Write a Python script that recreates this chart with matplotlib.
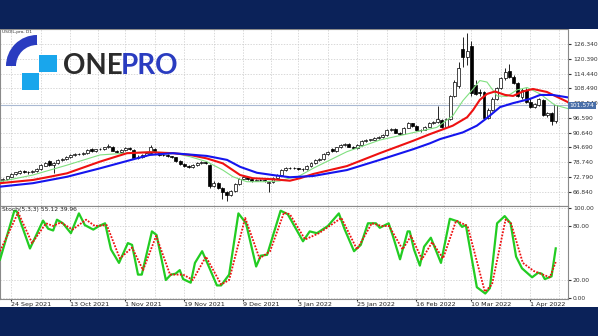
import matplotlib.pyplot as plt
import matplotlib.patches as mpatches
import matplotlib.transforms as mtransforms
import numpy as np

# daily candles USOIL (bar index 0..131)
opens = [71.4, 71.9, 72.9, 73.9, 74.5, 75.3, 74.6, 74.8, 75.2, 76.0,
         77.3, 79.1, 77.4, 78.3, 79.4, 80.0, 80.6, 81.5, 81.8, 82.0,
         82.3, 83.9, 83.0, 83.8, 84.0, 84.6, 84.9, 83.3, 82.8, 83.5,
         84.3, 83.6, 80.5, 80.8, 81.5, 82.3, 84.0, 82.6, 81.6, 81.4,
         81.0, 80.6, 79.2, 78.0, 77.3, 76.6, 77.6, 78.4, 78.7, 77.5,
         69.0, 70.3, 68.2, 66.8, 65.6, 67.0, 69.8, 72.0, 72.5, 71.9,
         71.2, 71.5, 71.4, 70.4, 70.7, 72.3, 73.6, 75.5, 76.3, 76.4,
         76.3, 76.0, 75.8, 77.0, 78.3, 79.5, 79.8, 82.0, 84.0, 83.2,
         84.6, 85.5, 86.0, 85.0, 84.2, 85.6, 87.3, 87.6, 87.8, 88.3,
         88.8, 89.5, 91.6, 92.0, 90.6, 90.2, 92.6, 94.3, 93.2, 91.5,
         91.8, 93.0, 94.4, 94.8, 95.8, 92.9, 96.0, 105.2, 109.5, 124.2,
         121.3, 125.5, 110.0, 106.8, 106.8, 96.5, 99.8, 104.3, 108.5, 112.5,
         115.5, 113.2, 110.6, 105.0, 107.8, 103.0, 101.0, 101.8, 103.6, 97.6,
         98.5, 95.3]
highs = [72.3, 73.2, 74.2, 74.9, 75.4, 75.6, 75.2, 75.6, 76.4, 77.8,
         78.9, 79.6, 78.6, 79.8, 80.4, 81.0, 81.9, 82.2, 82.5, 82.7,
         83.9, 84.2, 84.1, 84.5, 85.0, 85.9, 85.2, 83.6, 83.8, 84.6,
         84.8, 83.9, 81.4, 81.9, 82.6, 85.6, 84.3, 82.9, 82.0, 81.8,
         81.3, 80.9, 79.5, 78.3, 77.6, 77.9, 78.8, 79.1, 79.0, 78.0,
         71.2, 70.6, 68.5, 67.2, 67.5, 70.2, 72.4, 73.0, 72.8, 72.2,
         71.9, 71.8, 71.7, 71.2, 72.7, 74.0, 75.9, 76.7, 76.8, 76.7,
         76.5, 76.2, 77.4, 78.7, 79.9, 80.2, 82.4, 83.0, 84.3, 85.0,
         85.9, 86.5, 86.3, 85.3, 86.0, 87.7, 88.0, 88.2, 88.7, 89.2,
         89.9, 92.0, 92.5, 92.3, 91.0, 93.0, 94.8, 94.6, 93.5, 92.2,
         93.4, 94.8, 95.2, 101.5, 96.1, 96.4, 105.8, 111.8, 119.0, 129.2,
         130.8, 127.5, 112.0, 108.0, 107.5, 100.5, 104.8, 109.0, 113.0, 116.8,
         118.2, 114.0, 111.2, 108.8, 108.6, 104.5, 102.6, 104.5, 104.0, 98.9,
         98.9, 101.9]
lows = [71.0, 71.6, 72.6, 73.5, 74.1, 74.2, 74.0, 74.4, 74.9, 75.7,
        77.0, 77.0, 74.4, 78.0, 79.1, 79.7, 80.3, 81.1, 81.4, 81.6,
        82.0, 82.7, 82.7, 83.4, 83.7, 84.3, 83.0, 82.4, 82.5, 83.2,
        83.7, 80.2, 79.8, 80.4, 81.1, 82.0, 82.3, 81.2, 81.0, 80.6,
        80.2, 78.8, 77.7, 76.9, 76.2, 76.3, 77.3, 78.0, 77.9, 68.4,
        68.6, 67.8, 63.8, 63.0, 65.2, 66.7, 69.5, 71.6, 71.5, 70.8,
        70.9, 71.0, 70.6, 66.8, 70.4, 72.0, 73.3, 75.2, 76.0, 75.9,
        75.6, 75.3, 75.5, 76.7, 78.0, 79.2, 79.5, 81.7, 82.9, 82.9,
        84.3, 85.2, 84.7, 83.8, 83.9, 85.3, 87.0, 87.2, 87.5, 88.0,
        88.5, 89.2, 91.2, 90.3, 89.8, 89.9, 92.3, 92.9, 91.2, 90.8,
        91.5, 92.7, 94.0, 94.4, 92.4, 92.6, 95.7, 104.8, 108.8, 117.0,
        118.0, 105.5, 105.8, 105.5, 95.5, 96.0, 99.2, 103.8, 108.0, 112.0,
        112.8, 110.2, 105.0, 104.2, 102.5, 100.5, 100.6, 101.3, 97.2, 96.8,
        93.5, 94.5]
closes = [71.9, 72.9, 73.9, 74.5, 74.9, 74.6, 74.8, 75.2, 76.0, 77.3,
          78.4, 77.4, 78.3, 79.4, 80.0, 80.6, 81.5, 81.8, 82.0, 82.3,
          83.6, 83.0, 83.8, 84.0, 84.6, 85.0, 83.3, 82.8, 83.5, 84.3,
          84.0, 80.5, 80.8, 81.5, 82.3, 84.7, 82.6, 81.6, 81.4, 81.0,
          80.6, 79.2, 78.0, 77.3, 76.6, 77.6, 78.4, 78.7, 78.3, 69.0,
          70.3, 68.2, 66.8, 65.6, 67.0, 69.8, 72.0, 72.5, 71.9, 71.2,
          71.5, 71.4, 71.0, 70.7, 72.3, 73.6, 75.5, 76.3, 76.4, 76.3,
          76.0, 75.8, 77.0, 78.3, 79.5, 79.8, 82.0, 82.6, 83.2, 84.6,
          85.5, 86.0, 85.0, 84.2, 85.6, 87.3, 87.6, 87.8, 88.3, 88.8,
          89.5, 91.6, 92.0, 90.6, 90.2, 92.6, 94.3, 93.2, 91.5, 91.8,
          93.0, 94.4, 94.8, 96.0, 92.9, 96.0, 105.2, 111.0, 116.5, 121.0,
          123.5, 106.5, 106.0, 106.4, 96.5, 99.8, 104.3, 108.5, 112.5, 115.2,
          113.2, 110.6, 105.5, 107.6, 103.0, 101.0, 102.0, 104.0, 97.6, 98.5,
          95.3, 101.5]

# alligator lines (shifted forward, so they run past the last bar)
lips_x = [-0.7, 7.1, 15.2, 23.0, 30.8, 34.8, 40.3, 44.3, 48.3, 52.1, 54.5, 57.8,
          61.6, 65.6, 68.0, 69.7, 73.5, 81.5, 89.3, 98.8, 102.8, 106.6, 109.0,
          111.4, 113.0, 114.7, 117.1, 119.4, 121.8, 124.2, 127.3, 130.8, 133.9]
lips = [70.8, 73.5, 77.5, 81.6, 82.5, 82.8, 82.4, 80.9, 78.9, 75.5, 72.8, 70.8,
        70.8, 71.1, 72.3, 72.6, 76.2, 82.9, 87.6, 91.2, 92.7, 97.4, 103.5,
        108.2, 111.6, 111.0, 105.4, 105.2, 107.8, 108.8, 106.2, 101.7, 100.3]
teeth_x = [-0.7, 7.1, 11.1, 15.2, 23.0, 29.4, 34.8, 40.3, 44.3, 48.3, 52.1, 56.2,
           59.2, 63.9, 68.0, 70.4, 73.5, 81.5, 89.3, 97.2, 101.2, 106.6, 110.0,
           111.4, 113.0, 114.7, 116.6, 119.0, 120.9, 123.2, 125.6, 128.9, 133.9]
teeth = [70.2, 71.5, 72.8, 74.2, 78.9, 82.3, 82.7, 82.3, 81.6, 80.2, 78.2, 73.5,
         72.2, 71.8, 71.2, 72.2, 73.9, 77.1, 82.3, 87.3, 90.0, 93.4, 96.8,
         99.7, 103.8, 106.2, 107.2, 105.8, 105.4, 107.2, 108.2, 107.0, 102.9]
jaw_x = [-0.7, 7.1, 15.2, 23.0, 30.8, 34.8, 40.3, 48.3, 53.1, 56.2, 60.2, 63.9,
         68.0, 73.5, 81.5, 89.3, 97.2, 101.2, 103.6, 109.0, 112.3, 114.7, 117.8,
         120.9, 124.9, 127.3, 130.3, 133.9]
jaw = [68.8, 70.2, 72.8, 76.2, 79.8, 81.6, 82.3, 81.2, 79.6, 76.8, 74.4, 73.5,
       72.6, 73.1, 75.5, 79.6, 83.9, 86.3, 88.0, 90.7, 93.4, 96.5, 100.9,
       102.5, 104.2, 105.8, 105.8, 104.8]

# stochastic (5,3,3)
k_x = [-0.7, 2.7, 3.3, 6.4, 9.5, 10.7, 11.9, 12.8, 14.2, 16.1, 18.0, 19.4, 21.4,
       22.8, 24.2, 25.6, 27.5, 29.6, 30.6, 32.0, 32.9, 35.3, 36.4, 38.6, 39.8,
       40.9, 41.9, 42.7, 44.5, 45.5, 47.2, 48.6, 50.7, 51.7, 53.6, 55.8, 57.6,
       60.0, 61.1, 62.6, 65.8, 67.5, 71.1, 72.7, 74.4, 77.0, 79.6, 81.0, 83.2,
       84.8, 86.5, 88.4, 89.3, 91.4, 92.4, 94.1, 95.9, 96.4, 97.4, 98.8, 99.8,
       101.4, 103.8, 105.9, 107.8, 108.8, 109.7, 112.3, 114.3, 115.4, 117.1,
       118.9, 120.3, 121.6, 123.0, 125.4, 126.8, 127.7, 128.4, 130.0, 131.0]
stoch_k = [42.6, 97, 96, 55, 86, 77, 75, 87, 83, 72, 94, 81, 76,
           80, 83, 54, 39, 61, 59, 26, 26, 74, 70, 20, 26,
           27, 31, 21, 17, 39, 52, 37, 14, 14, 26, 94, 83,
           35, 47, 48, 97, 93, 63, 74, 72, 80, 94, 76, 52,
           59, 83, 83, 78, 83, 69, 43, 74, 74, 54, 36, 57,
           67, 39, 88, 85, 79, 81, 12, 5, 11, 83,
           91, 83, 46, 33, 23, 28, 27, 21, 24, 55.12]
d_x = [-0.7, 3.6, 6.9, 10.2, 11.9, 13.7, 16.5, 19.7, 21.8, 24.6, 27.7, 30.6,
       33.2, 36.3, 39.6, 42.7, 45.0, 48.1, 51.7, 53.6, 57.4, 60.8, 63.3, 66.6,
       68.0, 71.6, 74.9, 80.2, 83.9, 87.4, 89.8, 91.5, 94.7, 96.7, 99.3, 101.7,
       104.3, 107.4, 110.1, 114.2, 115.9, 119.1, 120.4, 123.2, 125.8, 129.6, 131.0]
stoch_d = [52, 95, 61, 83, 80, 84, 76, 87, 80, 81, 44, 56,
           31, 69, 26, 26, 20, 46, 15, 20, 89, 44, 52, 95,
           93, 65, 72, 89, 54, 83, 80, 80, 54, 69, 43, 62,
           44, 86, 80, 7, 15, 87, 83, 39, 30, 23, 39.96]

date_ticks = [2, 16, 29, 43, 57, 70, 84, 98, 111, 125]
date_labels = ["24 Sep 2021", "13 Oct 2021", "1 Nov 2021", "19 Nov 2021", "9 Dec 2021",
               "3 Jan 2022", "25 Jan 2022", "16 Feb 2022", "10 Mar 2022", "1 Apr 2022"]
price_ticks = [126.340, 120.390, 114.440, 108.490, 102.540, 96.590, 90.640,
               84.690, 78.740, 72.790, 66.840]
stoch_ticks = [100, 80, 20, 0]
last_price = 101.574

navy = "#0b2259"
grid_kw = dict(color="#c9c9c9", linestyle=(0, (2, 2)), linewidth=0.5)

fig = plt.figure(figsize=(5.98, 3.36), dpi=100)
fig.patch.set_facecolor("white")

ax = fig.add_axes([0.0, 0.3869, 0.9498, 0.5268])
ax2 = fig.add_axes([0.0, 0.1101, 0.9498, 0.2768])

minor_x = (np.array(date_ticks[:-1]) + np.array(date_ticks[1:])) / 2
minor_x = np.append(minor_x, date_ticks[-1] + 6.8)

for a in (ax, ax2):
    a.set_xlim(-0.7, 133.9)
    a.set_xticks(date_ticks)
    a.set_xticks(minor_x, minor=True)
    a.grid(True, which="both", **grid_kw)
    a.set_axisbelow(True)
    for s in a.spines.values():
        s.set_color("#8a8a8a")
        s.set_linewidth(0.8)
    a.yaxis.tick_right()
    a.tick_params(axis="y", length=2, pad=1.5, labelsize=4.3, colors="#333333")
    a.tick_params(axis="x", which="both", length=0)

# candles
idx = np.arange(len(closes))
o = np.array(opens); c = np.array(closes)
ax.vlines(idx, lows, highs, color="black", linewidth=0.6, zorder=2)
up = c >= o
ax.bar(idx[up], (c - o)[up] + 0.05, bottom=o[up], width=0.7, facecolor="white",
       edgecolor="black", linewidth=0.5, zorder=3)
ax.bar(idx[~up], (o - c)[~up], bottom=c[~up], width=0.7, facecolor="black",
       edgecolor="black", linewidth=0.5, zorder=3)

ax.plot(lips_x, lips, color="#80e080", linewidth=0.8, zorder=4)
ax.plot(teeth_x, teeth, color="#ee1111", linewidth=1.5, zorder=4)
ax.plot(jaw_x, jaw, color="#1515ee", linewidth=1.5, zorder=4)
ax.axhline(last_price, color="#a9b9d3", linewidth=0.8, zorder=1)

ax.set_ylim(61.0, 132.4)
ax.set_yticks(price_ticks, [f"{v:.3f}" for v in price_ticks])
ax.tick_params(axis="x", labelbottom=False)
trans = mtransforms.blended_transform_factory(ax.transAxes, ax.transData)
ax.text(1.003, last_price, f"{last_price:.3f}", transform=trans, fontsize=4.3,
        color="white", va="center", ha="left", clip_on=False, zorder=6,
        bbox=dict(facecolor="#4a6fa8", edgecolor="none", pad=0.9))
ax.text(0.004, 0.993, "USOIL,pro, D1", transform=ax.transAxes, fontsize=3.2,
        va="top", ha="left", color="#333333")

# stochastic panel
ax2.plot(k_x, stoch_k, color="#22cc22", linewidth=1.6, zorder=3)
ax2.plot(d_x, stoch_d, color="#ee1111", linewidth=1.3, linestyle=(0, (1, 0.8)), zorder=4)
ax2.set_ylim(-1.1, 102.2)
ax2.set_yticks(stoch_ticks, [f"{v:.2f}" for v in stoch_ticks])
ax2.set_xticks(date_ticks, date_labels)
ax2.tick_params(axis="x", which="major", length=1.5, pad=0.3, labelsize=4.6, colors="#222222")
for lab in ax2.get_xticklabels():
    lab.set_ha("left")
ax2.text(0.004, 0.985, "Stoch(5,3,3) 55.12 39.96", transform=ax2.transAxes,
         fontsize=4.3, va="top", ha="left", color="#222222")

# frame bands and logo
ov = fig.add_axes([0, 0, 1, 1], zorder=10)
ov.set_xlim(0, 598)
ov.set_ylim(336, 0)
ov.axis("off")
ov.patch.set_alpha(0)
ov.add_patch(mpatches.Rectangle((0, 0), 598, 29, facecolor=navy, edgecolor="none"))
ov.add_patch(mpatches.Rectangle((0, 307), 598, 29, facecolor=navy, edgecolor="none"))
ov.add_patch(mpatches.Wedge((37, 66), 31, 180, 270, width=10, facecolor="#2a3cc0",
                            edgecolor="none"))
ov.add_patch(mpatches.Rectangle((39, 55), 17.5, 17, facecolor="#19a6ec", edgecolor="none"))
ov.add_patch(mpatches.Rectangle((22, 72.5), 16.5, 17.5, facecolor="#19a6ec", edgecolor="none"))
ov.text(63, 73.5, "ONE", fontsize=20, fontweight="bold", family="Lato",
        color="#2b2b2b", va="baseline", ha="left")
ov.text(121, 73.5, "PRO", fontsize=20, fontweight="bold", family="Lato",
        color="#2a3cc0", va="baseline", ha="left")

fig.savefig("out.png", dpi=100)
